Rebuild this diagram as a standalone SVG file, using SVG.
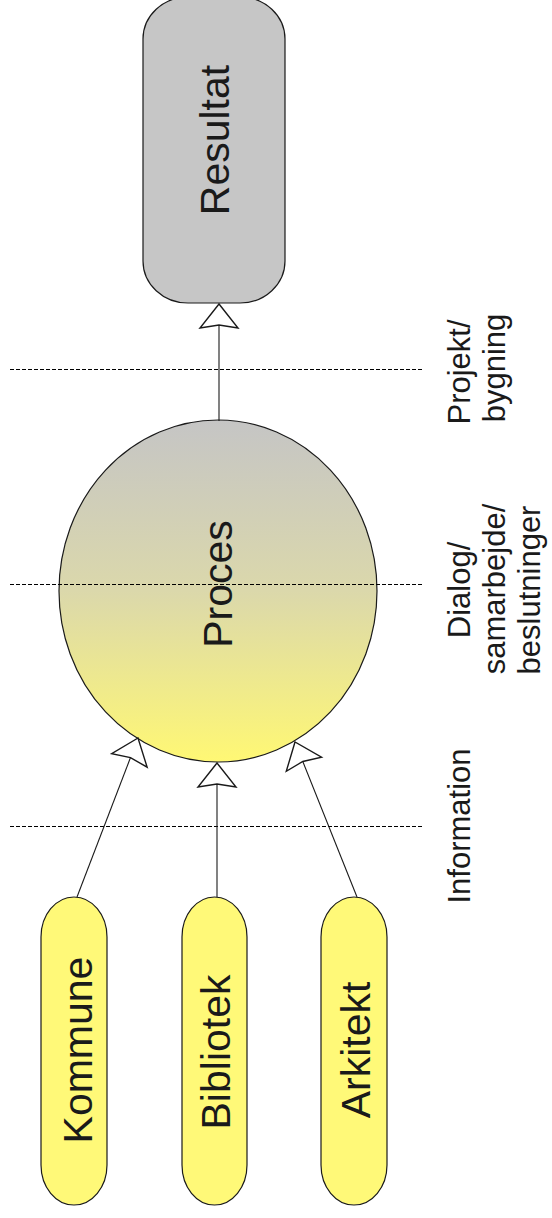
<svg xmlns="http://www.w3.org/2000/svg" width="552" height="1218" viewBox="0 0 552 1218">
<style>
  .node { stroke: #1a1a1a; stroke-width: 1.2; }
  .yellow { fill: #fff978; }
  .grey { fill: #c6c6c6; }
  .big { font-family: "Liberation Sans", Arial, sans-serif; font-size: 41px; fill: #1a1a1a; text-anchor: middle; }
  .lbl { font-family: "Liberation Sans", Arial, sans-serif; font-size: 31px; fill: #1a1a1a; text-anchor: middle; }
  .conn { stroke: #1a1a1a; stroke-width: 1.1; fill: none; }
  .dash { stroke: #000000; stroke-width: 1.1; stroke-dasharray: 4 2; fill: none; }
</style>
<defs>
  <linearGradient id="procGrad" x1="0" y1="0" x2="0" y2="1">
    <stop offset="0" stop-color="#c5c5c5"/>
    <stop offset="0.5" stop-color="#dbd8ab"/>
    <stop offset="1" stop-color="#fff874"/>
  </linearGradient>
  <marker id="arrow" markerUnits="userSpaceOnUse" markerWidth="30" markerHeight="44" viewBox="-27 -22 30 44" refX="0" refY="0" orient="auto" overflow="visible">
    <path d="M0,0 L-24,-19 L-21,0 L-24,19 Z" fill="#ffffff" stroke="#1a1a1a" stroke-width="1.4" stroke-linejoin="miter"/>
  </marker>
</defs>

<g id="node-resultat">
  <rect class="node grey" x="143" y="-3" width="142" height="306" rx="45" ry="42"/>
  <text class="big" transform="translate(229,140) rotate(-90)">Resultat</text>
</g>

<g id="node-proces">
  <ellipse class="node" cx="218" cy="591" rx="159" ry="171" fill="url(#procGrad)"/>
  <text class="big" transform="translate(232,584) rotate(-90)">Proces</text>
</g>

<g id="node-kommune">
  <rect class="node yellow" x="41" y="897" width="66" height="308" rx="33" ry="40"/>
  <text class="big" transform="translate(92,1050) rotate(-90)">Kommune</text>
</g>

<g id="node-bibliotek">
  <rect class="node yellow" x="182" y="897" width="65" height="308" rx="33" ry="40"/>
  <text class="big" transform="translate(230,1052) rotate(-90)">Bibliotek</text>
</g>

<g id="node-arkitekt">
  <rect class="node yellow" x="321" y="897" width="66" height="308" rx="33" ry="40"/>
  <text class="big" transform="translate(370,1050) rotate(-90)">Arkitekt</text>
</g>

<g id="guides">
  <line class="dash" x1="10" y1="369.5" x2="424" y2="369.5"/>
  <line class="dash" x1="10" y1="584.5" x2="424" y2="584.5"/>
  <line class="dash" x1="10" y1="826.5" x2="424" y2="826.5"/>
</g>

<g id="connectors">
  <line class="conn" x1="219" y1="421" x2="219" y2="304" marker-end="url(#arrow)"/>
  <line class="conn" x1="77" y1="897" x2="138" y2="738" marker-end="url(#arrow)"/>
  <line class="conn" x1="217" y1="897" x2="217" y2="763" marker-end="url(#arrow)"/>
  <line class="conn" x1="357" y1="897" x2="295" y2="742" marker-end="url(#arrow)"/>
</g>

<g id="labels">
  <g id="label-projekt">
    <text class="lbl" transform="translate(470,372) rotate(-90)">Projekt/</text>
    <text class="lbl" transform="translate(505,368) rotate(-90)">bygning</text>
  </g>
  <g id="label-dialog">
    <text class="lbl" transform="translate(470,590) rotate(-90)">Dialog/</text>
    <text class="lbl" transform="translate(505,589) rotate(-90)">samarbejde/</text>
    <text class="lbl" transform="translate(540,590) rotate(-90)">beslutninger</text>
  </g>
  <g id="label-information">
    <text class="lbl" transform="translate(470,826) rotate(-90)">Information</text>
  </g>
</g>
</svg>
